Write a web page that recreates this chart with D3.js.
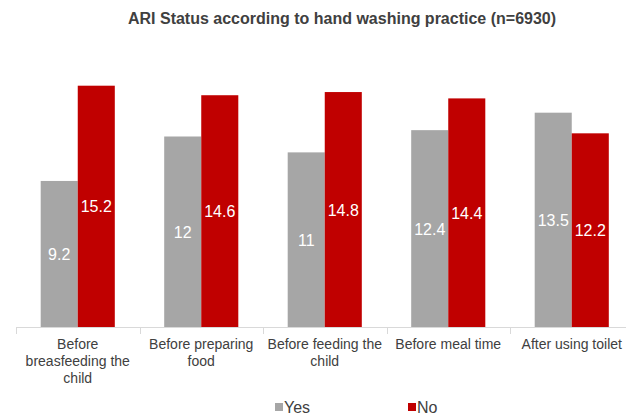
<!DOCTYPE html>
<html>
<head>
<meta charset="utf-8">
<script src="https://cdn.jsdelivr.net/npm/d3@7"></script>
<style>
  html, body { margin: 0; padding: 0; background: #fff; }
  svg { display: block; font-family: Arial, "Liberation Sans", sans-serif; }
</style>
</head>
<body>
<svg id="chart" width="626" height="415"></svg>
<script>
// ARI status by hand washing practice
const categories = [
  ["Before", "breasfeeding the", "child"],
  ["Before preparing", "food"],
  ["Before feeding the", "child"],
  ["Before meal time"],
  ["After using toilet"]
];
const seriesNames = ["Yes", "No"];
const yesValues = [9.2, 12, 11, 12.4, 13.5];
const noValues = [15.2, 14.6, 14.8, 14.4, 12.2];
const colors = ["#a6a6a6", "#c00000"];
const title = "ARI Status according to hand washing practice (n=6930)";

const svg = d3.select("#chart");
const baseY = 327;

const x0 = d3.scaleBand()
  .domain(d3.range(categories.length))
  .range([16, 16 + 123.5 * categories.length])
  .paddingInner(0.4)
  .paddingOuter(0.2);
const x1 = d3.scaleBand()
  .domain(seriesNames)
  .range([0, x0.bandwidth()]);
const y = d3.scaleLinear().domain([0, 16]).range([baseY, 73]);

const step = x0.step();
const bandStart = 16;

// title
svg.append("text")
  .attr("x", 342).attr("y", 24)
  .attr("text-anchor", "middle")
  .attr("font-size", 16).attr("font-weight", "bold")
  .attr("fill", "#404040")
  .text(title);

// bars
const data = categories.map((c, i) => ({ i, vals: [yesValues[i], noValues[i]] }));
const groups = svg.selectAll("g.cat").data(data).join("g")
  .attr("class", "cat")
  .attr("transform", d => `translate(${x0(d.i)},0)`);

groups.selectAll("rect").data(d => d.vals.map((v, k) => ({ v, k })))
  .join("rect")
  .attr("x", d => x1(seriesNames[d.k]))
  .attr("width", x1.bandwidth())
  .attr("y", d => y(d.v))
  .attr("height", d => y(0) - y(d.v))
  .attr("fill", d => colors[d.k]);

groups.selectAll("text.val").data(d => d.vals.map((v, k) => ({ v, k })))
  .join("text")
  .attr("class", "val")
  .attr("x", d => x1(seriesNames[d.k]) + x1.bandwidth() / 2)
  .attr("y", d => (y(d.v) + y(0)) / 2 + 6)
  .attr("text-anchor", "middle")
  .attr("font-size", 16)
  .attr("fill", "#ffffff")
  .text(d => d.v);

// axis line and category separators
svg.append("line")
  .attr("x1", bandStart).attr("x2", 626)
  .attr("y1", baseY + 0.5).attr("y2", baseY + 0.5)
  .attr("stroke", "#d9d9d9").attr("stroke-width", 1);
d3.range(categories.length + 1).forEach(i => {
  const xx = Math.round(bandStart + i * step) + 0.5;
  svg.append("line")
    .attr("x1", xx).attr("x2", xx)
    .attr("y1", baseY).attr("y2", baseY + 7)
    .attr("stroke", "#d9d9d9");
});

// category labels
groups.each(function(d) {
  const g = d3.select(this);
  const t = g.append("text")
    .attr("text-anchor", "middle")
    .attr("font-size", 14)
    .attr("fill", "#404040");
  categories[d.i].forEach((line, j) => {
    t.append("tspan")
      .attr("x", x0.bandwidth() / 2)
      .attr("y", 349 + j * 17)
      .text(line);
  });
});

// legend
const legend = [
  { name: seriesNames[0], color: colors[0], x: 275 },
  { name: seriesNames[1], color: colors[1], x: 408 }
];
legend.forEach(l => {
  svg.append("rect")
    .attr("x", l.x).attr("y", 403)
    .attr("width", 8).attr("height", 8)
    .attr("fill", l.color);
  svg.append("text")
    .attr("x", l.x + 9).attr("y", 413)
    .attr("font-size", 16)
    .attr("fill", "#404040")
    .text(l.name);
});
</script>
</body>
</html>
